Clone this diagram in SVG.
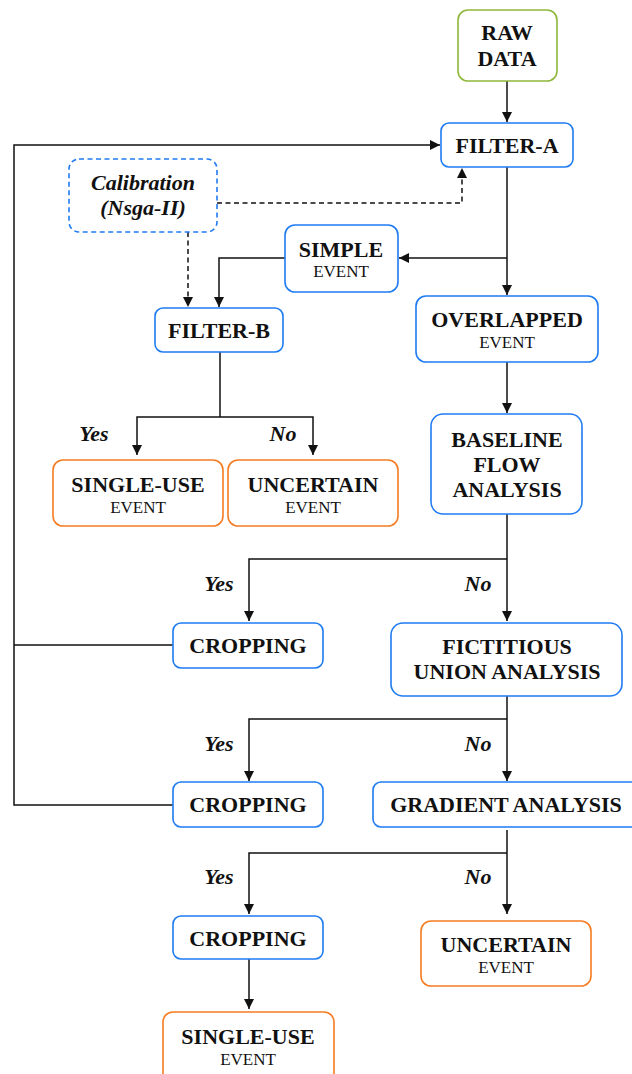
<svg xmlns="http://www.w3.org/2000/svg" width="632" height="1074" viewBox="0 0 632 1074">
<style>
.box{fill:#fff;stroke-width:1.6}
.blue{stroke:#1F7BF2}
.orange{stroke:#F57C22}
.green{stroke:#8DB83A}
.dash{stroke-dasharray:5 3.5}
.t{font-family:"Liberation Serif","Times New Roman",serif;font-weight:bold;font-size:22px;fill:#111;text-anchor:middle}
.s{font-family:"Liberation Serif","Times New Roman",serif;font-size:17px;fill:#111;text-anchor:middle}
.i{font-family:"Liberation Serif","Times New Roman",serif;font-weight:bold;font-style:italic;font-size:22px;fill:#111;text-anchor:middle}
.c{fill:none;stroke:#111;stroke-width:1.5}
.cd{fill:none;stroke:#111;stroke-width:1.5;stroke-dasharray:5 3.5}
</style>
<defs>
<marker id="ah" viewBox="0 0 10 10" refX="10" refY="5" markerWidth="10" markerHeight="10" markerUnits="userSpaceOnUse" orient="auto">
<path d="M0,0 L10,5 L0,10 Z" fill="#111"/>
</marker>
</defs>
<g id="connectors">
<path class="c" d="M507,81 V122" marker-end="url(#ah)"/>
<path class="c" d="M173,645 H14"/>
<path class="c" d="M173,805 H14 V145 H440" marker-end="url(#ah)"/>
<path class="cd" d="M217,203 H462 V168" marker-end="url(#ah)"/>
<path class="cd" d="M188,232 V307" marker-end="url(#ah)"/>
<path class="c" d="M507,167 V295" marker-end="url(#ah)"/>
<path class="c" d="M507,258 H399" marker-end="url(#ah)"/>
<path class="c" d="M285,258 H219 V307" marker-end="url(#ah)"/>
<path class="c" d="M220,352 V417"/>
<path class="c" d="M220,417 H137 V455" marker-end="url(#ah)"/>
<path class="c" d="M220,417 H313 V455" marker-end="url(#ah)"/>
<path class="c" d="M507,362 V413" marker-end="url(#ah)"/>
<path class="c" d="M507,514 V621" marker-end="url(#ah)"/>
<path class="c" d="M507,559 H249 V621" marker-end="url(#ah)"/>
<path class="c" d="M507,696 V781" marker-end="url(#ah)"/>
<path class="c" d="M507,719 H249 V781" marker-end="url(#ah)"/>
<path class="c" d="M507,830 V914" marker-end="url(#ah)"/>
<path class="c" d="M507,853 H249 V914" marker-end="url(#ah)"/>
<path class="c" d="M249,959 V1009" marker-end="url(#ah)"/>
<text class="i" x="94" y="441">Yes</text>
<text class="i" x="283" y="441">No</text>
<text class="i" x="219" y="591">Yes</text>
<text class="i" x="478" y="591">No</text>
<text class="i" x="219" y="751">Yes</text>
<text class="i" x="478" y="751">No</text>
<text class="i" x="219" y="884">Yes</text>
<text class="i" x="478" y="884">No</text>
</g>
<g id="raw-data">
<rect class="box green" x="458" y="10" width="99" height="71" rx="10"/>
<text class="t" x="507" y="40">RAW</text>
<text class="t" x="507" y="66">DATA</text>
</g>
<g id="filter-a">
<rect class="box blue" x="441" y="123" width="132" height="44" rx="8"/>
<text class="t" x="507" y="153">FILTER-A</text>
</g>
<g id="calibration">
<rect class="box blue dash" x="69" y="159" width="148" height="73" rx="10"/>
<text class="i" x="143" y="190">Calibration</text>
<text class="i" x="143" y="215">(Nsga-II)</text>
</g>
<g id="simple-event">
<rect class="box blue" x="285" y="225" width="113" height="67" rx="10"/>
<text class="t" x="341" y="257">SIMPLE</text>
<text class="s" x="341" y="277">EVENT</text>
</g>
<g id="filter-b">
<rect class="box blue" x="155" y="308" width="128" height="44" rx="8"/>
<text class="t" x="219" y="338">FILTER-B</text>
</g>
<g id="overlapped-event">
<rect class="box blue" x="416" y="296" width="182" height="66" rx="10"/>
<text class="t" x="507" y="327">OVERLAPPED</text>
<text class="s" x="507" y="348">EVENT</text>
</g>
<g id="baseline-flow">
<rect class="box blue" x="431" y="414" width="151" height="100" rx="12"/>
<text class="t" x="507" y="447">BASELINE</text>
<text class="t" x="507" y="472">FLOW</text>
<text class="t" x="507" y="497">ANALYSIS</text>
</g>
<g id="single-use-1">
<rect class="box orange" x="53" y="460" width="170" height="66" rx="10"/>
<text class="t" x="138" y="492">SINGLE-USE</text>
<text class="s" x="138" y="513">EVENT</text>
</g>
<g id="uncertain-1">
<rect class="box orange" x="228" y="460" width="170" height="66" rx="10"/>
<text class="t" x="313" y="492">UNCERTAIN</text>
<text class="s" x="313" y="513">EVENT</text>
</g>
<g id="cropping-1">
<rect class="box blue" x="173" y="623" width="150" height="45" rx="8"/>
<text class="t" x="248" y="653">CROPPING</text>
</g>
<g id="fictitious-union">
<rect class="box blue" x="391" y="623" width="231" height="73" rx="12"/>
<text class="t" x="507" y="654">FICTITIOUS</text>
<text class="t" x="507" y="679">UNION ANALYSIS</text>
</g>
<g id="cropping-2">
<rect class="box blue" x="173" y="782" width="150" height="45" rx="8"/>
<text class="t" x="248" y="812">CROPPING</text>
</g>
<g id="gradient-analysis">
<rect class="box blue" x="373" y="782" width="270" height="45" rx="8"/>
<text class="t" x="506" y="812">GRADIENT ANALYSIS</text>
</g>
<g id="cropping-3">
<rect class="box blue" x="173" y="916" width="150" height="43" rx="8"/>
<text class="t" x="248" y="946">CROPPING</text>
</g>
<g id="uncertain-2">
<rect class="box orange" x="421" y="921" width="170" height="65" rx="10"/>
<text class="t" x="506" y="952">UNCERTAIN</text>
<text class="s" x="506" y="973">EVENT</text>
</g>
<g id="single-use-2">
<rect class="box orange" x="163" y="1012" width="171" height="75" rx="10"/>
<text class="t" x="248" y="1044">SINGLE-USE</text>
<text class="s" x="248" y="1065">EVENT</text>
</g>
</svg>
